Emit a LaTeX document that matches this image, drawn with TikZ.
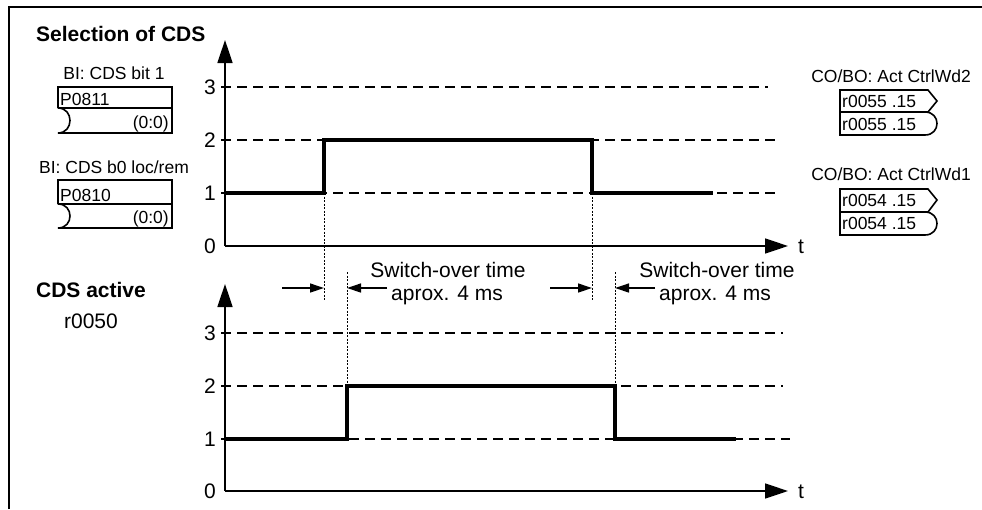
\documentclass[tikz,border=0pt]{standalone}
\usepackage{fontspec}
\setmainfont{Liberation Sans}
\usetikzlibrary{arrows.meta}
\begin{document}
\begin{tikzpicture}[x=1pt,y=-1pt,
  big/.style={font=\fontsize{21}{24}\selectfont, inner sep=0pt},
  bigb/.style={font=\fontsize{21}{24}\selectfont\bfseries, inner sep=0pt},
  small/.style={font=\fontsize{17.5}{20}\selectfont, inner sep=0pt},
  axisline/.style={line width=1.6pt, -{Triangle[length=23pt,width=15pt]}},
  levelline/.style={line width=1.3pt, dash pattern=on 10pt off 6pt},
  signal/.style={line width=3.8pt, line join=miter},
  guide/.style={line width=1pt, dash pattern=on 2pt off 1.5pt},
  gaparrow/.style={line width=1.3pt, -{Triangle[length=14pt,width=9pt]}},
  boxline/.style={line width=1.6pt, line join=miter}]
\useasboundingbox (0,0) rectangle (982,509);
% frame
\draw[line width=2.8pt] (9,509) -- (9,7) -- (982,7);

% ---------- left labels ----------
\node[bigb, anchor=base west] (selcds) at (36,41) {Selection of CDS};
\node[small, anchor=base] (bi1) at (114,79) {BI: CDS bit 1};
\draw[boxline] (58,108) -- (58,87) -- (172,87) -- (172,133) -- (58,133)
   .. controls (74,133) and (74,108) .. (58,108) -- (172,108);
\node[small, anchor=base west] (p0811) at (60,105) {P0811};
\node[small, anchor=base east] (p0811i) at (169,128) {(0:0)};

\node[small, anchor=base] (bi0) at (114,173) {BI: CDS b0 loc/rem};
\draw[boxline] (58,204) -- (58,180) -- (172,180) -- (172,228) -- (58,228)
   .. controls (74,228) and (74,204) .. (58,204) -- (172,204);
\node[small, anchor=base west] (p0810) at (60,201) {P0810};
\node[small, anchor=base east] (p0810i) at (169,223) {(0:0)};

\node[bigb, anchor=base] (cdsact) at (91,297) {CDS active};
\node[big, anchor=base] (r0050) at (91,328) {r0050};

% ---------- right labels ----------
\node[small, anchor=base] (cw2) at (891,82) {CO/BO: Act CtrlWd2};
\draw[boxline] (840,90) -- (928,90) -- (937,101) -- (928,112) -- (840,112) -- cycle;
\draw[boxline] (840,112) -- (925,112) .. controls (941,112) and (941,135) .. (925,135) -- (840,135) -- cycle;
\node[small, anchor=base west] (r55a) at (842,107) {r0055 .15};
\node[small, anchor=base west] (r55b) at (842,130) {r0055 .15};

\node[small, anchor=base] (cw1) at (891,180) {CO/BO: Act CtrlWd1};
\draw[boxline] (840,189) -- (928,189) -- (937,200) -- (928,212) -- (840,212) -- cycle;
\draw[boxline] (840,212) -- (925,212) .. controls (941,212) and (941,235) .. (925,235) -- (840,235) -- cycle;
\node[small, anchor=base west] (r54a) at (842,206) {r0054 .15};
\node[small, anchor=base west] (r54b) at (842,229) {r0054 .15};

% ---------- top chart ----------
\coordinate (o1) at (225,246);
\coordinate (ytop1) at (225,40);
\coordinate (xend1) at (788,246);
\draw[levelline] (221,87) -- (768,87);
\draw[levelline] (221,140) -- (778,140);
\draw[levelline] (221,193) -- (778,193);
\draw[axisline] (o1) -- (ytop1);
\draw[axisline] (o1) -- (xend1);
\node[big, anchor=base east] (a3) at (216,94) {3};
\node[big, anchor=base east] (a2) at (216,147) {2};
\node[big, anchor=base east] (a1) at (216,200) {1};
\node[big, anchor=base east] (a0) at (216,253) {0};
\node[big, anchor=base west] (at) at (798,253) {t};
\draw[signal] (225,193) -- (324,193) -- (324,140) -- (592,140) -- (592,193) -- (713,193);
\draw[guide] (324,193) -- (324,300);
\draw[guide] (592,193) -- (592,300);

% ---------- switch-over ----------
\draw[guide] (347,272) -- (347,386);
\draw[guide] (615,272) -- (615,386);
\draw[gaparrow] (282,288) -- (324,288);
\draw[gaparrow] (387,288) -- (347,288);
\draw[gaparrow] (550,288) -- (592,288);
\draw[gaparrow] (655,288) -- (615,288);
\node[big, anchor=base] (sw1) at (448,277) {Switch-over time};
\node[big, anchor=base] (ap1) at (447,300) {aprox. 4 ms};
\node[big, anchor=base] (sw2) at (717,277) {Switch-over time};
\node[big, anchor=base] (ap2) at (715,300) {aprox. 4 ms};

% ---------- bottom chart ----------
\coordinate (o2) at (225,491);
\coordinate (ytop2) at (225,284);
\coordinate (xend2) at (788,491);
\draw[levelline] (221,333) -- (783,333);
\draw[levelline] (221,386) -- (783,386);
\draw[levelline] (221,439) -- (790,439);
\draw[axisline] (o2) -- (ytop2);
\draw[axisline] (o2) -- (xend2);
\node[big, anchor=base east] (b3) at (216,340) {3};
\node[big, anchor=base east] (b2) at (216,393) {2};
\node[big, anchor=base east] (b1) at (216,446) {1};
\node[big, anchor=base east] (b0) at (216,498) {0};
\node[big, anchor=base west] (bt) at (798,498) {t};
\draw[signal] (225,439) -- (347,439) -- (347,386) -- (615,386) -- (615,439) -- (736,439);
\end{tikzpicture}
\end{document}
